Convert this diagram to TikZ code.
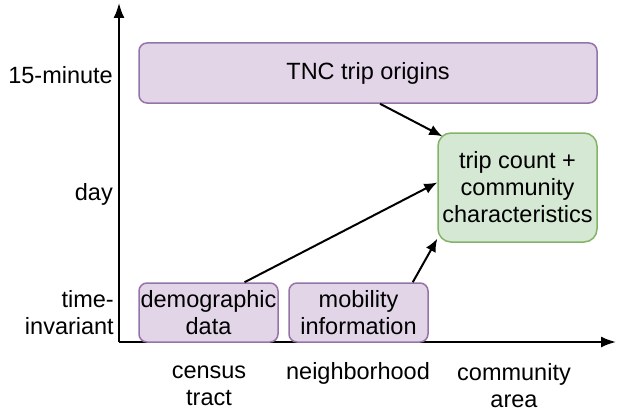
\documentclass[tikz,border=0pt]{standalone}
\usepackage{fontspec}
\setmainfont{Liberation Sans}
\usetikzlibrary{arrows.meta,calc}
\definecolor{pfill}{HTML}{E1D5E7}
\definecolor{pdraw}{HTML}{9673A6}
\definecolor{gfill}{HTML}{D5E8D4}
\definecolor{gdraw}{HTML}{82B366}
\tikzset{
  pbox/.style={draw=pdraw,fill=pfill,line width=1.5pt,rounded corners=8pt,align=center,inner sep=0pt},
  gbox/.style={draw=gdraw,fill=gfill,line width=1.5pt,rounded corners=13pt,align=center,inner sep=0pt},
  conn/.style={line width=2pt,-{Latex[length=13pt,width=11pt]}},
  axis/.style={line width=2pt,-{Latex[length=15pt,width=11pt]}},
  lbl/.style={inner sep=0pt},
}
\begin{document}
\begin{tikzpicture}[x=1pt,y=-1pt,font=\fontsize{23.5}{27}\selectfont]
\useasboundingbox (0,0) rectangle (618,412);
\coordinate (o) at (119,342);
\coordinate (ytop) at (119,3);
\coordinate (xend) at (616,342);
\draw[axis] (o) -- (ytop);
\draw[axis] (o) -- (xend);
\node[pbox,minimum width=458pt,minimum height=60pt] (tnc) at (368,73) {TNC trip origins};
\node[gbox,minimum width=159pt,minimum height=109pt] (green) at (517.5,187.5) {trip count +\\community\\characteristics};
\node[pbox,minimum width=139pt,minimum height=59pt] (demo) at (208.5,312.5) {demographic\\data};
\node[pbox,minimum width=139pt,minimum height=59pt] (mob) at (358.5,312.5) {mobility\\information};
\draw[conn] ($(tnc.south)+(12,0)$) -- ($(green.north west)+(5,4)$);
\draw[conn] ($(demo.north)+(36,0)$) -- ($(green.west)+(0,-5)$);
\draw[conn] ($(mob.north east)+(-16,0)$) -- ($(green.south west)+(0,-4)$);
\node[lbl,anchor=east] (l15) at (113,75) {15-minute};
\node[lbl,anchor=east] (lday) at (113,194) {day};
\node[lbl,anchor=east,align=right] (lti) at (114,313) {time-\\invariant};
\node[lbl,align=center] (lct) at (209,386) {census\\tract};
\node[lbl,anchor=base] (lnb) at (358,379) {neighborhood};
\node[lbl,align=center] (lca) at (514,386) {community\\area};
\end{tikzpicture}
\end{document}
